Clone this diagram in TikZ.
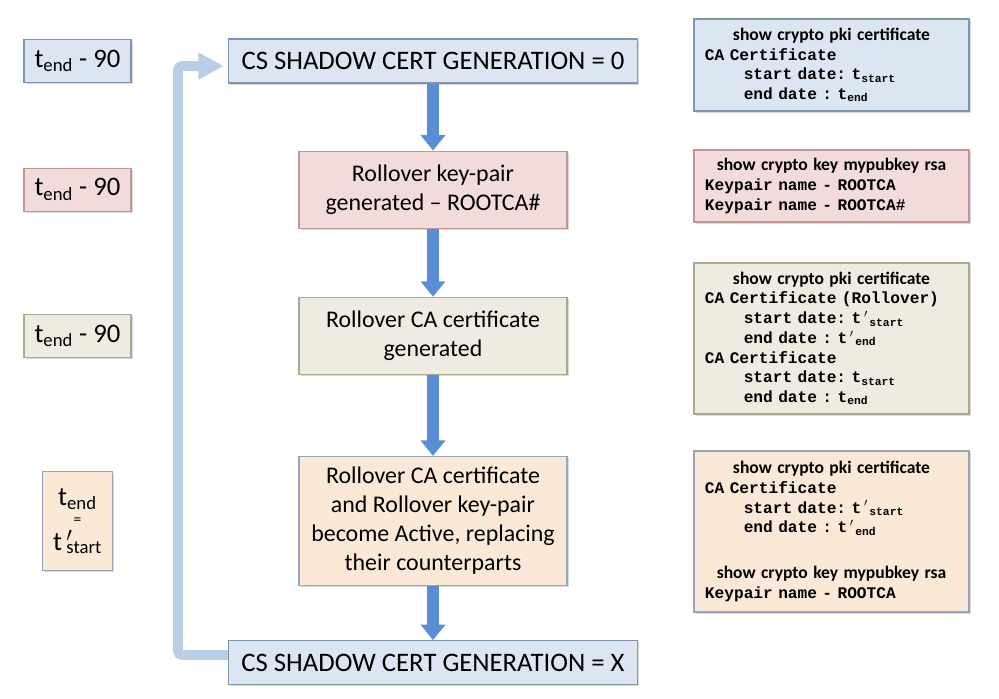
\documentclass[tikz,border=0pt]{standalone}
\usepackage{fontspec}
\setmainfont{Carlito}
\newfontfamily\cmdfont{Liberation Mono}
\usetikzlibrary{positioning,arrows.meta,shadows}

\definecolor{BlueFill}{HTML}{DCE6F2}
\definecolor{BlueLine}{HTML}{8195B3}
\definecolor{RedFill}{HTML}{F2DCDB}
\definecolor{RedLine}{HTML}{C39694}
\definecolor{OliveFill}{HTML}{EEECE1}
\definecolor{OliveLine}{HTML}{ABA993}
\definecolor{TanFill}{HTML}{FBE9D8}
\definecolor{TanLine}{HTML}{9AA5B7}
\definecolor{FlowBlue}{HTML}{5A8DD5}
\definecolor{LoopBlue}{HTML}{B9CDE5}

\newcommand{\showhead}[1]{{\rmfamily\fontsize{12.5}{14}\selectfont #1}}
\newcommand{\cmdln}[1]{\makebox[\linewidth][l]{#1}}
\newcommand{\ind}{\hspace*{2.4em}}
\newcommand{\tp}{t\,\rlap{$'$}}

\tikzstyle{StageBox}=[rectangle, thick, inner sep=0pt, align=center, drop shadow={shadow xshift=1.2pt, shadow yshift=-1.2pt, opacity=0.3}, font=\fontsize{17}{20.6}\selectfont]
\tikzstyle{GenBox}=[StageBox, minimum width=10.225cm, minimum height=1.1cm, font=\fontsize{19}{23}\selectfont]
\tikzstyle{MidBox}=[StageBox, minimum width=6.7cm]
\tikzstyle{TimeTag}=[StageBox, minimum width=2.675cm, minimum height=1.075cm, font=\fontsize{19}{23}\selectfont]
\tikzstyle{ShowBox}=[rectangle, thick, minimum width=6.875cm, text width=6.325cm, inner xsep=0.275cm, inner ysep=0pt, align=center, drop shadow={shadow xshift=1.2pt, shadow yshift=-1.2pt, opacity=0.3}, font=\cmdfont\bfseries\frenchspacing\fontsize{11.5}{14}\selectfont]
\tikzstyle{BlueBox}=[draw=BlueLine, fill=BlueFill]
\tikzstyle{RedBox}=[draw=RedLine, fill=RedFill]
\tikzstyle{OliveBox}=[draw=OliveLine, fill=OliveFill]
\tikzstyle{TanBox}=[draw=TanLine, fill=TanFill]
\tikzstyle{FlowArrow}=[draw=FlowBlue, line width=9pt, -{Triangle[width=17pt,length=11pt]}]
\tikzstyle{LoopArrow}=[draw=LoopBlue, line width=7pt, rounded corners=3pt, shorten >=3pt, -{Triangle[width=18pt,length=18pt]}]

\begin{document}
\begin{tikzpicture}[x=0.025cm, y=-0.025cm]
	\useasboundingbox (0,0) rectangle (999,698);

	%Etapas
	\node[GenBox, BlueBox]		(gen0)		at (433,61)				{CS SHADOW CERT GENERATION = 0};
	\node[MidBox, RedBox, minimum height=1.925cm]	(keypair)	[below=1.675cm of gen0]	{Rollover key-pair\\generated -- ROOTCA\#};
	\node[MidBox, OliveBox, minimum height=1.925cm]	(rollcert)	[below=1.7cm of keypair]	{Rollover CA certificate\\generated};
	\node[MidBox, TanBox, minimum height=3.225cm]	(active)	[below=2.025cm of rollcert]	{Rollover CA certificate\\and Rollover key-pair\\become Active, replacing\\their counterparts};
	\node[GenBox, BlueBox]		(genX)		[below=1.35cm of active]	{CS SHADOW CERT GENERATION = X};

	%Tiempos
	\node[TimeTag, BlueBox]		(time0)		at (77.5,0 |- gen0)		{t\textsubscript{end} - 90};
	\node[TimeTag, RedBox]		(time1)		at (77.5,0 |- keypair)	{t\textsubscript{end} - 90};
	\node[TimeTag, OliveBox]	(time2)		at (77.5,0 |- rollcert)	{t\textsubscript{end} - 90};
	\node[TimeTag, TanBox, minimum width=1.75cm, minimum height=2.475cm]	(time3)	at (77.5,0 |- active)	{t\textsubscript{end}\\[-9pt]{\fontsize{11}{11}\selectfont =}\\[-5pt]\tp\textsubscript{start}};

	%Comandos
	\node[ShowBox, BlueBox, minimum height=2.3cm]	(show0)	at (831.5,65)	{\showhead{show crypto pki certificate}\\
		\cmdln{CA Certificate}\\
		\cmdln{\ind start date: t\textsubscript{start}}\\
		\cmdln{\ind end date : t\textsubscript{end}}};
	\node[ShowBox, RedBox, minimum height=1.8cm]	(show1)	at (831.5,186)	{\showhead{show crypto key mypubkey rsa}\\
		\cmdln{Keypair name - ROOTCA}\\
		\cmdln{Keypair name - ROOTCA\#}};
	\node[ShowBox, OliveBox, minimum height=3.775cm]	(show2)	at (831.5,338.5)	{\showhead{show crypto pki certificate}\\
		\cmdln{CA Certificate (Rollover)}\\
		\cmdln{\ind start date: \tp\ \textsubscript{start}}\\
		\cmdln{\ind end date : \tp\ \textsubscript{end}}\\
		\cmdln{CA Certificate}\\
		\cmdln{\ind start date: t\textsubscript{start}}\\
		\cmdln{\ind end date : t\textsubscript{end}}};
	\node[ShowBox, TanBox, minimum height=4.025cm]	(show3)	at (831.5,531.5)	{\showhead{show crypto pki certificate}\\
		\cmdln{CA Certificate}\\
		\cmdln{\ind start date: \tp\ \textsubscript{start}}\\
		\cmdln{\ind end date : \tp\ \textsubscript{end}}\\[18.7pt]
		\showhead{show crypto key mypubkey rsa}\\
		\cmdln{Keypair name - ROOTCA}};

	%Flechas
	\draw[FlowArrow] (gen0) -- (keypair);
	\draw[FlowArrow] (keypair) -- (rollcert);
	\draw[FlowArrow] (rollcert) -- (active);
	\draw[FlowArrow] (active) -- (genX);

	\coordinate (loopcorner) at (178,66);
	\draw[LoopArrow] ([yshift=5.5pt]genX.west) -| (loopcorner) -- (loopcorner -| gen0.west);

\end{tikzpicture}
\end{document}
